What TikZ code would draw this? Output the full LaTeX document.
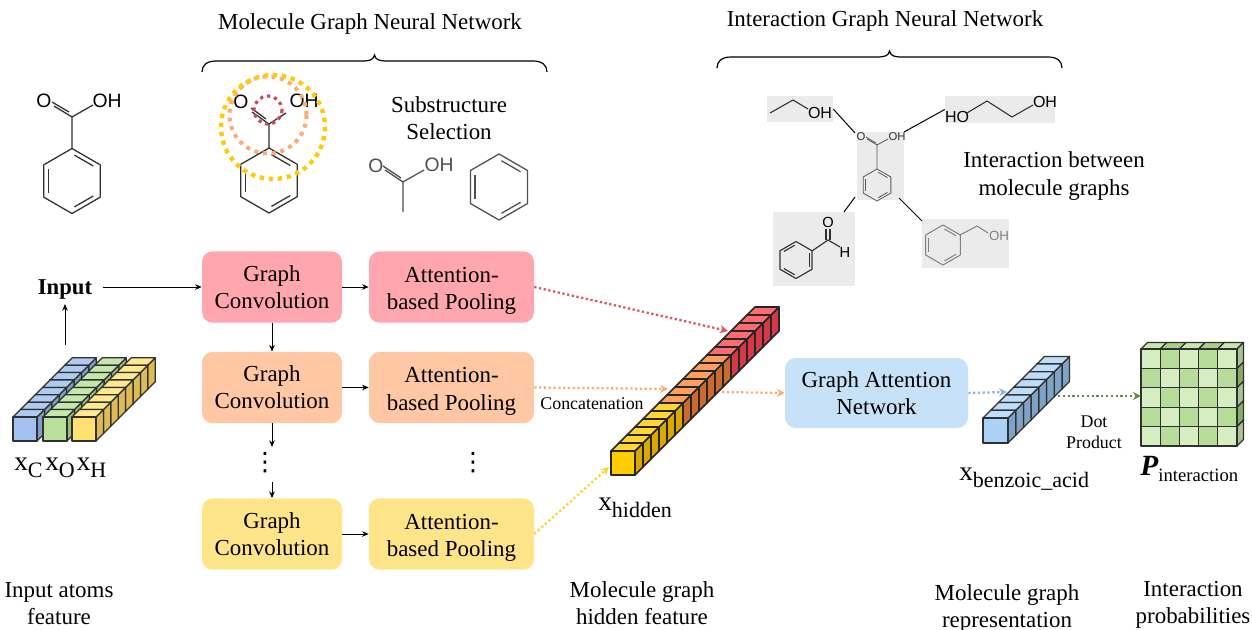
\documentclass[tikz,border=0pt]{standalone}
\usepackage{fontspec}
\setmainfont{Liberation Serif}
\newfontfamily\chemf{Liberation Sans}
\newfontfamily\symf{DejaVu Sans}
\usetikzlibrary{arrows.meta}
\definecolor{pinkbox}{HTML}{FFA6AE}
\definecolor{orgbox}{HTML}{FFC7A3}
\definecolor{yelbox}{HTML}{FFE58A}
\definecolor{blubox}{HTML}{C6E1F8}
\definecolor{lineK}{HTML}{303030}
\definecolor{grayP}{HTML}{EBEBEB}
\definecolor{dred}{HTML}{E2515E}
\definecolor{dorg}{HTML}{FFAA72}
\definecolor{dyel}{HTML}{FFD42E}
\definecolor{ringy}{HTML}{FFCA0A}
\definecolor{dblu}{HTML}{8FB2E4}
\definecolor{dgrn}{HTML}{5F8F3E}
\definecolor{mlight}{HTML}{D6EEC2}
\definecolor{mdark}{HTML}{B6DE9A}
\definecolor{mtopl}{HTML}{C8E6AE}
\definecolor{mtopd}{HTML}{A8D088}
\definecolor{msidl}{HTML}{A8C490}
\definecolor{msidd}{HTML}{86AD68}
\definecolor{yF}{HTML}{FFE070}\definecolor{yT}{HTML}{FFE88F}\definecolor{yS}{HTML}{DDBB55}
\definecolor{gF}{HTML}{B8E09C}\definecolor{gT}{HTML}{C5E6AC}\definecolor{gS}{HTML}{97BC7F}
\definecolor{bF}{HTML}{A4C2F0}\definecolor{bT}{HTML}{B0CBF2}\definecolor{bS}{HTML}{7F9CCB}
\definecolor{hyF}{HTML}{FFCC00}\definecolor{hyT}{HTML}{FFD633}\definecolor{hyS}{HTML}{D6A800}
\definecolor{hoT}{HTML}{FF9F5F}\definecolor{hoS}{HTML}{C96A30}
\definecolor{hrT}{HTML}{FF6B72}\definecolor{hrS}{HTML}{D43A45}
\definecolor{rF}{HTML}{ABD2F6}\definecolor{rT}{HTML}{BDDDF8}\definecolor{rS}{HTML}{7FA3C7}
% x y w d from to front top side
\newcommand\cuberow[9]{%
  \foreach \ci in {#5,...,#6}{%
    \pgfmathsetmacro\cx{#1+\ci*#4}\pgfmathsetmacro\cy{#2-\ci*#4}%
    \draw[cubeline,fill=#9] ({\cx+#3},\cy) -- ({\cx+#3+#4},{\cy-#4}) -- ({\cx+#3+#4},{\cy-#3-#4}) -- ({\cx+#3},{\cy-#3}) -- cycle;
    \draw[cubeline,fill=#8] (\cx,{\cy-#3}) -- ({\cx+#4},{\cy-#3-#4}) -- ({\cx+#3+#4},{\cy-#3-#4}) -- ({\cx+#3},{\cy-#3}) -- cycle;
    \draw[cubeline,fill=#7] (\cx,\cy) rectangle ({\cx+#3},{\cy-#3});
  }%
}
% cx cy R options
\newcommand\benz[4]{%
  \begin{scope}[shift={(#1,#2)},#4]
    \draw[line join=round] (0,{-#3}) -- ({.866*#3},{-.5*#3}) -- ({.866*#3},{.5*#3}) -- (0,{#3}) -- ({-.866*#3},{.5*#3}) -- ({-.866*#3},{-.5*#3}) -- cycle;
    \draw ({.073*#3},{-.798*#3}) -- ({.654*#3},{-.462*#3});
    \draw ({.073*#3},{.798*#3}) -- ({.654*#3},{.462*#3});
    \draw ({-.727*#3},{-.36*#3}) -- ({-.727*#3},{.36*#3});
  \end{scope}%
}
\newcommand\brc[4]{% x1 x2 ybottom ytop
  \draw[line width=.9pt] (#1,#3) .. controls (#1,{#4+4}) and ({#1+5},#4) .. ({#1+14},#4) -- ({(#1+#2)/2-13},#4) .. controls ({(#1+#2)/2-5},#4) and ({(#1+#2)/2-1},{#4-1}) .. ({(#1+#2)/2},{#4-6}) .. controls ({(#1+#2)/2+1},{#4-1}) and ({(#1+#2)/2+5},#4) .. ({(#1+#2)/2+13},#4) -- ({#2-14},#4) .. controls ({#2-5},#4) and (#2,{#4+4}) .. (#2,#3);
}
\newcommand\xlab[1]{{\fontsize{20.5}{21}\selectfont x}\raisebox{-5.5pt}{\fontsize{16.5}{17}\selectfont #1}}
\newcommand\uline{\rule{0pt}{17.5pt}}
\tikzset{
  cubeline/.style={draw=lineK,line width=.95pt,line join=round},
  hidline/.style={draw=black!85,line width=1.15pt},
  txt/.style={inner sep=0pt,align=center,font=\fontsize{17.2}{20.4}\selectfont},
  small/.style={inner sep=0pt,align=center,font=\fontsize{13.4}{16}\selectfont},
  chem/.style={inner sep=0pt,font=\chemf\fontsize{14.5}{15}\selectfont},
  gcbox/.style={rounded corners=8pt,inner sep=0pt,minimum width=105pt,minimum height=53.5pt,align=center,font=\fontsize{17.2}{20.4}\selectfont},
  apbox/.style={gcbox,minimum width=123.75pt,font=\fontsize{17.2}{20.6}\selectfont},
  gatbox/.style={gcbox,minimum width=137.25pt,minimum height=52.5pt,fill=blubox},
  arr/.style={line width=.75pt,-{Stealth[length=5pt,width=4.2pt]}},
  dotarr/.style={line width=1.7pt,dash pattern=on 1.7pt off 1.9pt,-{Stealth[length=6pt,width=6pt]}},
  mol/.style={draw=lineK,line width=.95pt},
  panel/.style={fill=grayP,inner sep=0pt},
  ring/.style={line width=3.3pt,dash pattern=on 3.3pt off 3.5pt},
  vdotn/.style={inner sep=0pt,font=\symf\fontsize{19}{20}\selectfont}
}
\begin{document}
\begin{tikzpicture}[x=.75pt,y=-.75pt]
\useasboundingbox (0,0) rectangle (1252,629);
\clip (0,0) rectangle (1252,629);
% titles
\node[txt] (t1) at (370,23.5) {Molecule Graph Neural Network};
\node[txt] (t2) at (885,20.5) {Interaction Graph Neural Network};
\brc{202}{547}{72}{61}
\brc{717}{1062}{68}{57}
% left molecule
\begin{scope}[mol]
\benz{72}{181}{32.5}{}
\draw (72,148.5) -- (72,117) -- (93,105);
\draw (72,117) -- (54,106);
\draw (69,112) -- (52,102);
\end{scope}
\node[chem] (m1o) at (44,101) {O};
\node[chem] (m1oh) at (107,101) {OH};
% middle molecule with rings
\begin{scope}[mol]
\benz{269}{180.5}{32.5}{}
\draw (269,148) -- (269,124) -- (286,113);
\draw (269,124) -- (252,112);
\draw (266,119) -- (251,108);
\end{scope}
\node[chem] (m2o) at (241,102) {O};
\node[chem] (m2oh) at (304,101) {OH};
\draw[line width=2.4pt,draw=dred!90!black,dash pattern=on 2.4pt off 3pt] (268,110) circle [radius=14];
\draw[ring,line width=3pt,dash pattern=on 3pt off 3.6pt,draw=dorg] (268,115) circle [radius=38.5];
\draw[ring,draw=ringy] (273,127) circle [radius=52];
% substructures
\node[txt] (sub) at (449,118.5) {Substructure\\Selection};
\begin{scope}[draw=lineK!85,line width=.95pt]
\draw (403,212) -- (403,182) -- (424,170);
\draw (403,182) -- (385,170);
\draw (401,178) -- (383,166);
\benz{499}{187}{33}{}
\end{scope}
\node[chem,text=lineK!85] (s1o) at (376,166) {O};
\node[chem,text=lineK!85] (s1oh) at (439,165) {OH};
% interaction panels
\node[panel,minimum width=35.25pt,minimum height=51pt] (ctr) at (880.5,166) {};
\node[panel,minimum width=49.5pt,minimum height=19.5pt] (eth) at (800,109) {};
\node[panel,minimum width=82.5pt,minimum height=20.25pt] (hop) at (1000,109.5) {};
\node[panel,minimum width=61.5pt,minimum height=55.5pt] (ald) at (814,249) {};
\node[panel,minimum width=65.25pt,minimum height=36.75pt] (bza) at (965.5,243.5) {};
\coordinate (c1) at (855,133);
\coordinate (c2) at (904,132);
\coordinate (c3) at (855,197);
\coordinate (c4) at (899,198);
\coordinate (c5) at (844,212);
\coordinate (c6) at (922,221);
\draw[line width=.75pt] (eth.east) -- (c1);
\draw[line width=.75pt] (hop.west) -- (c2);
\draw[line width=.75pt] (c5) -- (c3);
\draw[line width=.75pt] (c4) -- (c6);
\begin{scope}[draw=lineK!80,line width=.6pt]
\benz{877}{185}{16}{}
\draw (877,169) -- (877,145) -- (888,139);
\draw (877,145) -- (867,139);
\draw (876,143) -- (866,137);
\end{scope}
\node[chem,font=\chemf\fontsize{8.5}{9}\selectfont,text=lineK] (co) at (861,137) {O};
\node[chem,font=\chemf\fontsize{8.5}{9}\selectfont,text=lineK] (coh) at (897,137) {OH};
\draw[line width=.8pt,draw=lineK] (770,113) -- (793,100) -- (808,109);
\node[chem,font=\chemf\fontsize{12}{13}\selectfont] (eoh) at (820,113) {OH};
\node[chem,font=\chemf\fontsize{12}{13}\selectfont] (hoa) at (957,117) {HO};
\draw[line width=.8pt,draw=lineK] (967,113) -- (987,101) -- (1012,117) -- (1033,105);
\node[chem,font=\chemf\fontsize{12}{13}\selectfont] (hob) at (1045,102) {OH};
\begin{scope}[draw=lineK,line width=.85pt]
\benz{796}{260}{18.5}{xscale=-1}
\draw (812,251) -- (828,240) -- (840,247);
\draw (826,240) -- (826,229);
\draw (830,240) -- (830,229);
\end{scope}
\node[chem,font=\chemf\fontsize{11}{12}\selectfont] (ao) at (828,222) {O};
\node[chem,font=\chemf\fontsize{11}{12}\selectfont] (ah) at (845,252) {H};
\begin{scope}[draw=black!50,line width=.75pt]
\benz{943}{245}{20}{}
\draw (960,235) -- (977,226) -- (988,233);
\end{scope}
\node[chem,font=\chemf\fontsize{10}{11}\selectfont,text=black!50] (boh) at (999,236) {OH};
\node[txt] (ibm) at (1054,176) {Interaction between\\molecule graphs};
% input
\node[txt,font=\bfseries\fontsize{17}{20}\selectfont] (inp) at (65,289) {Input};
\coordinate (feat) at (65,345);
\coordinate (inps) at (65,304);
\coordinate (inpe) at (103,287);
\draw[arr] (feat) -- (inps);
% input cubes
\cuberow{13}{441}{24}{7.4}{7}{0}{bF}{bT}{bS}
\cuberow{43}{441}{24}{7.4}{7}{0}{gF}{gT}{gS}
\cuberow{72}{441}{24}{7.4}{7}{0}{yF}{yT}{yS}
\node[inner sep=0pt,anchor=base west] (xc) at (14,470) {\xlab{C}};
\node[inner sep=0pt,anchor=base west] (xo) at (45,470) {\xlab{O}};
\node[inner sep=0pt,anchor=base west] (xh) at (76.5,470) {\xlab{H}};
\node[txt] (iaf) at (59,603.5) {Input atoms\\feature};
% boxes
\node[gcbox,fill=pinkbox] (gc1) at (272,287) {Graph\\Convolution};
\node[apbox,fill=pinkbox] (ap1) at (451.5,287) {\uline Attention-\\based Pooling};
\node[gcbox,fill=orgbox] (gc2) at (272,387.5) {Graph\\Convolution};
\node[apbox,fill=orgbox] (ap2) at (451.5,387.5) {\uline Attention-\\based Pooling};
\node[gcbox,fill=yelbox] (gc3) at (272,534) {Graph\\Convolution};
\node[apbox,fill=yelbox] (ap3) at (451.5,534) {\uline Attention-\\based Pooling};
\node[vdotn] (vd1) at (265,463) {⋮};
\node[vdotn] (vd2) at (473,463) {⋮};
\coordinate (vd1a) at (272,423);
\coordinate (vd1b) at (272,447);
\coordinate (vd1c) at (272,482);
\draw[arr] (inpe) -- (gc1.west);
\draw[arr] (gc1.east) -- (ap1.west);
\draw[arr] (gc2.east) -- (ap2.west);
\draw[arr] (gc3.east) -- (ap3.west);
\draw[arr] (gc1.south) -- (gc2.north);
\draw[arr] (vd1a) -- (vd1b);
\draw[arr] (vd1c) -- (gc3.north);
% hidden feature
\begin{scope}[cubeline/.append style={hidline}]
\cuberow{611}{475}{24}{8}{17}{12}{hrT}{hrT}{hrS}
\cuberow{611}{475}{24}{8}{11}{6}{hoT}{hoT}{hoS}
\cuberow{611}{475}{24}{8}{5}{0}{hyF}{hyT}{hyS}
\end{scope}
\coordinate (hr) at (728,331);
\coordinate (ho) at (668,389);
\coordinate (hy) at (609,467);
\coordinate (hout) at (722,392);
\draw[dotarr,draw=dred] (ap1.east) -- (hr);
\draw[dotarr,draw=dorg] (ap2.east) -- (ho);
\draw[dotarr,draw=dyel] (ap3.east) -- (hy);
\node[small] (conc) at (592,404) {Concatenation};
\node[inner sep=0pt,anchor=base west] (xhid) at (598,510) {\xlab{hidden}};
\node[txt] (mghf) at (642,603.5) {Molecule graph\\hidden feature};
% graph attention
\node[gatbox] (gat) at (876.5,393) {Graph Attention\\Network};
\draw[dotarr,draw=dorg] (hout) -- (gat.west);
% representation
\cuberow{983}{443}{25}{7.7}{7}{0}{rF}{rT}{rS}
\coordinate (rin) at (1007,392);
\coordinate (rout) at (1058,396);
\draw[dotarr,draw=dblu] (gat.east) -- (rin);
\node[small] (dp) at (1094,432) {Dot\\Product};
\node[inner sep=0pt,anchor=base west] (xben) at (959,480) {\xlab{benzoic\_acid}};
\node[txt] (mgr) at (1007,608.5) {Molecule graph\\representation};
% matrix
\foreach \c in {0,...,4}{
  \pgfmathsetmacro\xa{1141+\c*19.2}
  \pgfmathtruncatemacro\prt{mod(\c,2)}
  \ifnum\prt=0 \def\tc{mtopl}\else\def\tc{mtopd}\fi
  \draw[cubeline,fill=\tc] (\xa,349) -- ({\xa+6.5},342.5) -- ({\xa+25.7},342.5) -- ({\xa+19.2},349) -- cycle;
}
\foreach \r in {0,...,4}{
  \pgfmathsetmacro\ya{349+\r*19.4}
  \pgfmathtruncatemacro\prt{mod(\r,2)}
  \ifnum\prt=0 \def\tc{msidl}\else\def\tc{msidd}\fi
  \draw[cubeline,fill=\tc] (1237,\ya) -- (1243.5,{\ya-6.5}) -- (1243.5,{\ya+12.9}) -- (1237,{\ya+19.4}) -- cycle;
}
\foreach \r in {0,...,4}{\foreach \c in {0,...,4}{
  \pgfmathsetmacro\xa{1141+\c*19.2}
  \pgfmathsetmacro\ya{349+\r*19.4}
  \pgfmathtruncatemacro\prt{mod(\r+\c,2)}
  \ifnum\prt=0 \def\tc{mlight}\else\def\tc{mdark}\fi
  \draw[cubeline,fill=\tc] (\xa,\ya) rectangle ({\xa+19.2},{\ya+19.4});
}}
\coordinate (min) at (1141,396);
\draw[dotarr,draw=dgrn] (rout) -- (min);
\node[inner sep=0pt,anchor=base west] (pint) at (1140,475) {{\fontsize{22}{22}\selectfont\textbf{\textit{P}}}\raisebox{-5pt}{\fontsize{14}{15}\selectfont interaction}};
\node[txt] (ipr) at (1193,605) {Interaction\\probabilities};
\end{tikzpicture}
\end{document}
